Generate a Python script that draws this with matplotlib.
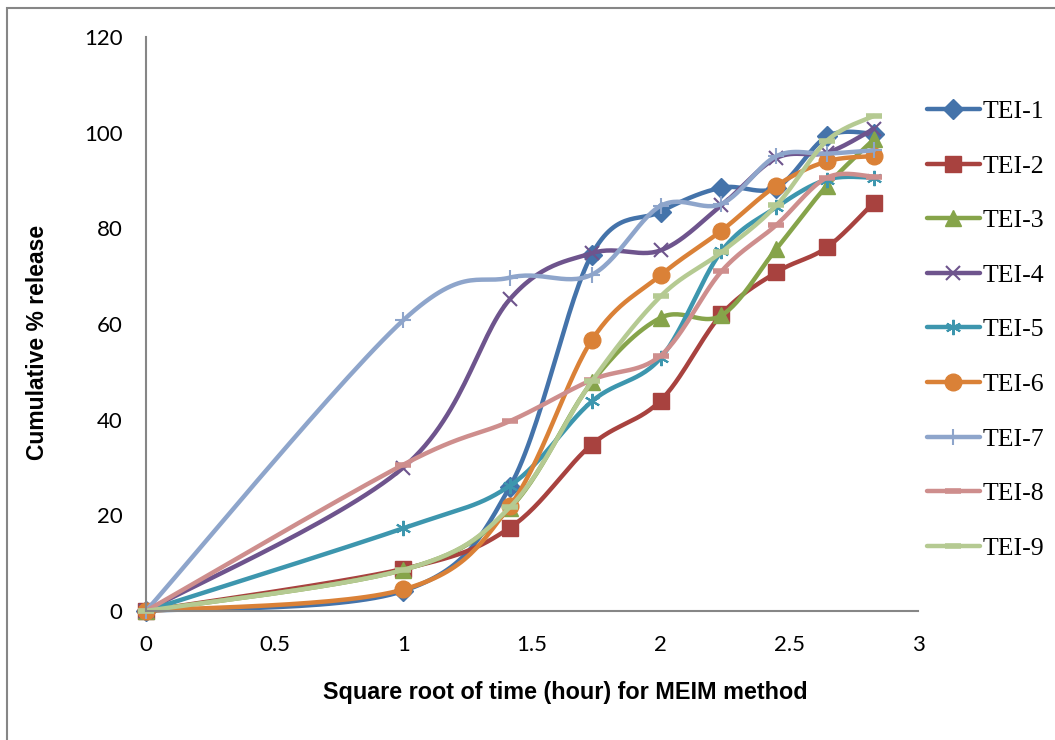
import numpy as np
import matplotlib
matplotlib.use("Agg")
import matplotlib.pyplot as plt
from matplotlib.patches import Rectangle

# ---- data ----
hours = [0, 1, 2, 3, 4, 5, 6, 7, 8]
series_names = ["TEI-1", "TEI-2", "TEI-3", "TEI-4", "TEI-5", "TEI-6", "TEI-7", "TEI-8", "TEI-9"]
tei1 = [0, 4.2, 26.0, 74.5, 83.5, 88.5, 88.5, 99.2, 99.8]
tei2 = [0, 8.8, 17.4, 34.8, 44.0, 62.0, 70.8, 76.0, 85.4]
tei3 = [0, 8.6, 21.5, 47.8, 61.3, 61.8, 75.7, 88.9, 98.6]
tei4 = [0, 30.0, 65.2, 74.8, 75.4, 84.8, 94.7, 95.8, 100.8]
tei5 = [0, 17.3, 26.2, 43.8, 52.9, 75.2, 84.4, 90.2, 90.6]
tei6 = [0, 4.5, 22.0, 56.6, 70.2, 79.5, 88.9, 94.0, 95.1]
tei7 = [0, 60.8, 69.7, 70.3, 84.7, 85.1, 95.1, 95.6, 96.3]
tei8 = [0, 30.6, 39.7, 48.3, 53.4, 71.0, 80.7, 90.6, 90.8]
tei9 = [0, 8.6, 21.7, 48.0, 65.8, 75.0, 84.8, 98.3, 103.5]
x_ticks = [0, 0.5, 1, 1.5, 2, 2.5, 3]
x_tick_labels = ["0", "0.5", "1", "1.5", "2", "2.5", "3"]
y_ticks = [0, 20, 40, 60, 80, 100, 120]
y_tick_labels = ["0", "20", "40", "60", "80", "100", "120"]

all_series = [tei1, tei2, tei3, tei4, tei5, tei6, tei7, tei8, tei9]

# ---- styles ----
colors = ["#4473AA", "#A8423F", "#86A44A", "#6E548D", "#3D96AE",
          "#DA8137", "#8EA5CB", "#CE8E8D", "#B5CA92"]
ASTER = (6, 2, 0)
markers = ["D", "s", "^", "x", ASTER, "o", "+", "_", "_"]
msizes = [10, 11, 12, 10, 11, 12, 12, 11, 11]
mews = [1, 1, 1, 1.5, 1.5, 1, 1.5, 4, 4]

W, H = 1055, 740


def smooth(xv, yv, n=30):
    P = np.column_stack([xv, yv]).astype(float)
    ext = np.vstack([P[0], P, P[-1]])
    out = []
    t = np.linspace(0, 1, n, endpoint=False)[:, None]
    for i in range(len(P) - 1):
        p0, p1, p2, p3 = ext[i], ext[i + 1], ext[i + 2], ext[i + 3]
        c1 = p1 + (p2 - p0) / 6.0
        c2 = p2 - (p3 - p1) / 6.0
        seg = (1 - t) ** 3 * p1 + 3 * (1 - t) ** 2 * t * c1 + 3 * (1 - t) * t ** 2 * c2 + t ** 3 * p2
        out.append(seg)
    out.append(P[-1:])
    return np.vstack(out), n


fig = plt.figure(figsize=(W / 100, H / 100), dpi=100)
fig.patch.set_facecolor("white")
fig.patches.append(Rectangle((7 / W, 0 - 0.01), 1.1, 1 - 8 / H + 0.01, transform=fig.transFigure,
                             fill=False, edgecolor="#868686", linewidth=1.5, zorder=0))

ax = fig.add_axes([146 / W, 1 - 611 / H, (918 - 146) / W, (611 - 37) / H])
x = np.sqrt(hours)
for name, y, c, m, ms, mew in zip(series_names, all_series, colors, markers, msizes, mews):
    pts, n = smooth(x, y)
    me = list(range(0, n * (len(x) - 1) + 1, n))
    ax.plot(pts[:, 0], pts[:, 1], color=c, lw=3.2, marker=m, markersize=ms,
            markeredgewidth=mew, markerfacecolor=c, markeredgecolor=c,
            markevery=me, label=name, solid_capstyle="round", clip_on=False)

ax.set_xlim(0, 3)
ax.set_ylim(0, 120)
ax.set_xticks(x_ticks)
ax.set_xticklabels(x_tick_labels)
ax.set_yticks(y_ticks)
ax.set_yticklabels(y_tick_labels)
for s in ["top", "right"]:
    ax.spines[s].set_visible(False)
for s in ["left", "bottom"]:
    ax.spines[s].set_color("#868686")
    ax.spines[s].set_linewidth(1.5)
ax.tick_params(axis="both", length=0, labelsize=16)
ax.tick_params(axis="x", pad=17)
ax.tick_params(axis="y", pad=17)
for lab in ax.get_xticklabels() + ax.get_yticklabels():
    lab.set_fontfamily("Lato")

fig.text(565 / W, 1 - 693 / H, "Square root of time (hour) for MEIM method",
         ha="center", va="center", fontsize=16.8, fontweight="bold", family="Liberation Sans")
fig.text(38 / W, 1 - 342 / H, "Cumulative % release", rotation=90,
         ha="center", va="center", fontsize=16.5, fontweight="bold", family="Liberation Sans")

leg = fig.legend(loc="upper left", bbox_to_anchor=(927 / W, 1 - 100 / H), frameon=False,
                 borderpad=0, borderaxespad=0, handlelength=2.06, handletextpad=0.12,
                 labelspacing=1.23, numpoints=1,
                 prop={"family": "Liberation Serif", "size": 18.5})

fig.savefig("out.png", dpi=100)
